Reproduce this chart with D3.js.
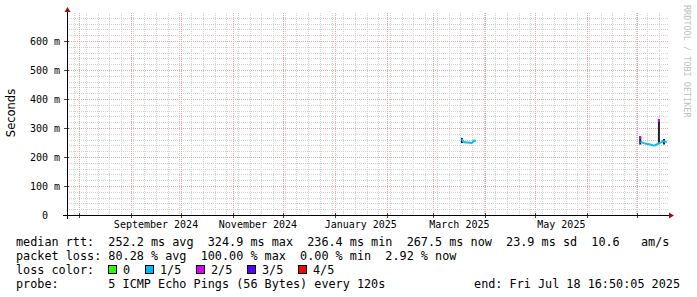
<!DOCTYPE html>
<html lang="en">
<head>
<meta charset="UTF-8">
<title>Smokeping median rtt</title>
<script src="https://d3js.org/d3.v7.min.js"></script>
<style>
  body { margin: 0; background: #fff; }
  svg text { font-family: "DejaVu Sans Mono", monospace; white-space: pre; }
</style>
</head>
<body>
<svg id="chart" width="697" height="297"></svg>
<script>
// time span of the graph
const startTime = "2024-07-24T18:00:00";
const endTime = "2025-07-18T16:50:05";

// x labels (centered on the middle of the month)
const labelMonths = ["2024-09-01", "2024-11-01", "2025-01-01", "2025-03-01", "2025-05-01"];
const labelTexts = ["September 2024", "November 2024", "January 2025", "March 2025", "May 2025"];

// y ticks in seconds
const yTicks = [0, 0.1, 0.2, 0.3, 0.4, 0.5, 0.6];
const yTickLabels = ["0", "100", "200", "300", "400", "500", "600"];
const yTickUnits = ["", "m", "m", "m", "m", "m", "m"];

// median rtt (ms) and loss (lost pings out of 5), two stretches with data
const timesA = ["2025-03-18T00:00", "2025-03-18T20:00", "2025-03-20T10:00", "2025-03-21T15:00",
                "2025-03-22T20:00", "2025-03-24T01:00", "2025-03-25T06:00", "2025-03-26T06:00"];
const medianA = [262, 252, 250, 250, 249, 248, 258, 254];
const lossA = [1, 1, 1, 1, 1, 1, 1, 1];

const timesB = ["2025-07-02T18:00", "2025-07-03T18:00", "2025-07-05T06:00", "2025-07-06T18:00",
                "2025-07-08T06:00", "2025-07-09T18:00", "2025-07-11T06:00", "2025-07-12T18:00",
                "2025-07-14T18:00", "2025-07-15T18:00", "2025-07-16T18:00", "2025-07-17T18:00",
                "2025-07-18T12:00"];
const medianB = [252.8, 250.7, 247, 245, 244, 241, 239, 244, 249, 253, 256, 251, 254];
const lossB = [1, 1, 1, 1, 1, 1, 1, 1, 1, 1, 1, 1, 1];

// smoke spikes: time, low rtt, high rtt, loss of the top sample
const spikeTimes = ["2025-03-18T00:00", "2025-07-02T16:00", "2025-07-13T21:00", "2025-07-16T22:00"];
const spikeLow = [248, 243, 246, 243];
const spikeHigh = [266, 272, 331, 262];
const spikeLoss = [-1, 2, 2, -1];

// legend
const lossNames = ["0", "1/5", "2/5", "3/5", "4/5"];
const lossColors = ["#26ff00", "#00b8ff", "#dd00ff", "#5500ff", "#ff0000"];
const legendRows = [
  "median rtt:  252.2 ms avg  324.9 ms max  236.4 ms min  267.5 ms now  23.9 ms sd  10.6   am/s",
  "packet loss: 80.28 % avg  100.00 % max  0.00 % min  2.92 % now",
  "loss color:",
  "probe:       5 ICMP Echo Pings (56 Bytes) every 120s"
];
const endText = "end: Fri Jul 18 16:50:05 2025";

const parse = s => new Date(s);
const svg = d3.select("#chart");

const plotLeft = 67, plotRight = 668, plotTop = 13, plotBottom = 215;

const x = d3.scaleTime()
  .domain([parse(startTime), parse(endTime)])
  .range([plotLeft, 667]);
const y = d3.scaleLinear()
  .domain([0, 0.7])
  .range([plotBottom, 12]);

const minorColor = "#d2d2d2";
const majorColor = "#eca4a4";

// minor grid
const grid = svg.append("g");
const weeks = d3.timeMonday.range(parse(startTime), parse(endTime));
grid.selectAll("line.vminor").data(weeks).enter().append("line")
  .attr("x1", d => Math.round(x(d)) + 0.5).attr("x2", d => Math.round(x(d)) + 0.5)
  .attr("y1", plotTop).attr("y2", plotBottom)
  .attr("stroke", minorColor).attr("stroke-dasharray", "1,1");
const hminor = d3.range(1, 35).map(i => i * 0.02).filter(v => Math.round(v * 100) % 10 !== 0);
grid.selectAll("line.hminor").data(hminor).enter().append("line")
  .attr("x1", plotLeft).attr("x2", plotRight)
  .attr("y1", d => Math.round(y(d)) + 0.5).attr("y2", d => Math.round(y(d)) + 0.5)
  .attr("stroke", minorColor).attr("stroke-dasharray", "1,1");

// major grid
const months = d3.timeMonth.range(parse(startTime), parse(endTime));
grid.selectAll("line.vmajor").data(months).enter().append("line")
  .attr("x1", d => Math.round(x(d)) + 0.5).attr("x2", d => Math.round(x(d)) + 0.5)
  .attr("y1", plotTop).attr("y2", plotBottom)
  .attr("stroke", majorColor).attr("stroke-dasharray", "1,1");
grid.selectAll("line.hmajor").data(yTicks.slice(1)).enter().append("line")
  .attr("x1", plotLeft).attr("x2", plotRight)
  .attr("y1", d => Math.round(y(d)) + 0.5).attr("y2", d => Math.round(y(d)) + 0.5)
  .attr("stroke", majorColor).attr("stroke-dasharray", "1,1");

// ticks on the axes
grid.selectAll("line.xtick").data(months).enter().append("line")
  .attr("x1", d => Math.round(x(d)) + 0.5).attr("x2", d => Math.round(x(d)) + 0.5)
  .attr("y1", plotBottom - 2).attr("y2", plotBottom + 3)
  .attr("stroke", "#444");
grid.selectAll("line.ytick").data(yTicks).enter().append("line")
  .attr("x1", plotLeft - 3).attr("x2", plotLeft + 2)
  .attr("y1", d => Math.round(y(d)) + 0.5).attr("y2", d => Math.round(y(d)) + 0.5)
  .attr("stroke", "#444");

// smoke spikes
const spikes = spikeTimes.map((t, i) => ({ t: parse(t), lo: spikeLow[i], hi: spikeHigh[i], loss: spikeLoss[i] }));
const data = svg.append("g");
data.selectAll("rect.smoke").data(spikes).enter().append("rect")
  .attr("x", d => x(d.t) - 1).attr("width", 2)
  .attr("y", d => y(d.hi / 1000)).attr("height", d => y(d.lo / 1000) - y(d.hi / 1000))
  .attr("fill", "#222");
data.selectAll("rect.cap").data(spikes.filter(d => d.loss >= 0)).enter().append("rect")
  .attr("x", d => x(d.t) - 1).attr("width", 2)
  .attr("y", d => y(d.hi / 1000)).attr("height", 3)
  .attr("fill", d => lossColors[d.loss]);

// median line, each step coloured by its loss
function drawMedian(times, vals, loss) {
  const pts = times.map((t, i) => ({ t: parse(t), v: vals[i] / 1000, loss: loss[i] }));
  const line = d3.line().x(d => x(d.t)).y(d => y(d.v));
  for (let i = 1; i < pts.length; i++) {
    data.append("path")
      .attr("d", line([pts[i - 1], pts[i]]))
      .attr("fill", "none")
      .attr("stroke", lossColors[pts[i].loss])
      .attr("stroke-width", 2);
  }
}
drawMedian(timesA, medianA, lossA);
drawMedian(timesB, medianB, lossB);

// axes
svg.append("line").attr("x1", 63).attr("x2", 670).attr("y1", plotBottom + 0.5).attr("y2", plotBottom + 0.5)
  .attr("stroke", "#000");
svg.append("line").attr("x1", plotLeft + 0.5).attr("x2", plotLeft + 0.5).attr("y1", plotBottom + 4).attr("y2", 10)
  .attr("stroke", "#000");
svg.append("path").attr("d", "M669,212.5 L674,215.5 L669,218.5 Z").attr("fill", "#a01010");
svg.append("path").attr("d", "M64.5,12 L67.5,7 L70.5,12 Z").attr("fill", "#a01010");

// x labels
const mid = d => new Date((+d + +d3.timeMonth.offset(d, 1)) / 2);
svg.selectAll("text.xlab").data(labelMonths).enter().append("text")
  .attr("x", d => x(mid(parse(d + "T00:00")))).attr("y", 228)
  .attr("text-anchor", "middle").attr("font-size", "10px").attr("fill", "#000")
  .text((d, i) => labelTexts[i]);

// y labels
svg.selectAll("text.ylab").data(yTicks).enter().append("text")
  .attr("x", 48).attr("y", d => y(d) + 3.5)
  .attr("text-anchor", "end").attr("font-size", "10px").attr("fill", "#000")
  .text((d, i) => yTickLabels[i]);
svg.selectAll("text.yunit").data(yTicks).enter().append("text")
  .attr("x", 54).attr("y", d => y(d) + 3.5)
  .attr("font-size", "10px").attr("fill", "#000")
  .text((d, i) => yTickUnits[i]);

svg.append("text")
  .attr("transform", "translate(15,113) rotate(-90)")
  .attr("text-anchor", "middle").attr("font-size", "11.5px")
  .style("font-family", "'DejaVu Sans', sans-serif")
  .text("Seconds");

// watermark
svg.append("text")
  .attr("transform", "translate(684,5) rotate(90)")
  .attr("font-size", "8.5px").attr("fill", "#c0c0c0")
  .text("RRDTOOL / TOBI OETIKER");

// legend
const rowY = [245.5, 259.5, 273.5, 287.5];
svg.selectAll("text.leg").data(legendRows).enter().append("text")
  .attr("x", 16).attr("y", (d, i) => rowY[i])
  .attr("xml:space", "preserve")
  .attr("font-size", "11.8px").attr("fill", "#000")
  .text(d => d);
svg.append("text").attr("x", 680).attr("y", rowY[3])
  .attr("text-anchor", "end").attr("font-size", "11.8px")
  .text(endText);

const boxX = [108.5, 145.5, 196.5, 247.5, 298.5];
const lossLeg = svg.append("g");
lossLeg.selectAll("rect").data(lossColors).enter().append("rect")
  .attr("x", (d, i) => boxX[i]).attr("y", 265.5).attr("width", 8).attr("height", 8)
  .attr("fill", d => d).attr("stroke", "#000");
lossLeg.selectAll("text").data(lossNames).enter().append("text")
  .attr("x", (d, i) => boxX[i] + 14.5).attr("y", rowY[2])
  .attr("font-size", "11.8px").attr("fill", "#000")
  .text(d => d);
</script>
</body>
</html>
